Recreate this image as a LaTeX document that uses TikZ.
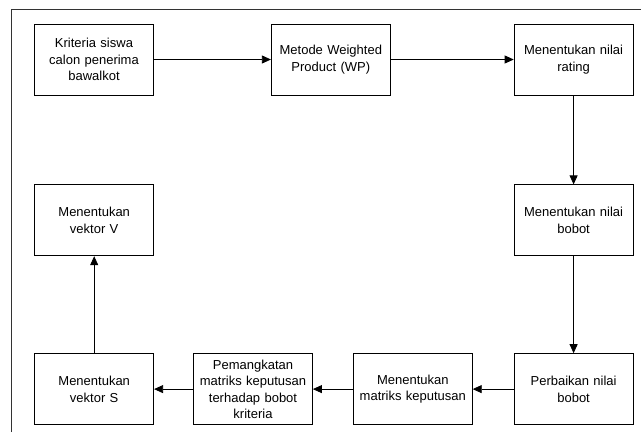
\documentclass[tikz,border=0pt]{standalone}
\usepackage{fontspec}
\setmainfont{Liberation Sans}
\usetikzlibrary{arrows.meta}

\begin{document}
\begin{tikzpicture}[x=1pt,y=-1pt]
    \def\colgap{40}
    \def\rowgap{89}
    \tikzstyle{block}=[rectangle, draw, line width=0.8pt, minimum width=119pt, minimum height=71pt, text width=115pt, inner sep=2pt, align=center, font=\fontsize{13}{16.5}\selectfont]
    \tikzstyle{arrow}=[-{Triangle[length=9pt,width=8pt]}, line width=0.8pt]

    \useasboundingbox (0,0) rectangle (641,432);
    \draw[line width=0.8pt, black!80] (11,432) -- (11,9) -- (641,9);

    % nodes
    \node (kriteria) [block] at (94,59.5) {Kriteria siswa\\calon penerima\\bawalkot};
    \path (kriteria.east)+(117,0) node (metode) [block, anchor=west] {Metode Weighted\\Product (WP)};
    \path (metode.east)+(123,0) node (rating) [block, anchor=west] {Menentukan nilai\\rating};
    \path (rating.south)+(0,\rowgap) node (bobot) [block, anchor=north] {Menentukan nilai\\bobot};
    \path (bobot.south)+(0,97) node (perbaikan) [block, anchor=north] {Perbaikan nilai\\bobot};
    \path (perbaikan.west)+(-41,0) node (matriks) [block, anchor=east] {Menentukan\\matriks keputusan};
    \path (matriks.west)+(-\colgap,0) node (pangkat) [block, anchor=east] {Pemangkatan\\matriks keputusan\\terhadap bobot\\kriteria};
    \path (pangkat.west)+(-39,0) node (vektorS) [block, anchor=east] {Menentukan\\vektor S};
    \path (vektorS.north)+(0,-97) node (vektorV) [block, anchor=south] {Menentukan\\vektor V};

    % arrows
    \draw[arrow] (kriteria) -- (metode);
    \draw[arrow] (metode) -- (rating);
    \draw[arrow] (rating) -- (bobot);
    \draw[arrow] (bobot) -- (perbaikan);
    \draw[arrow] (perbaikan) -- (matriks);
    \draw[arrow] (matriks) -- (pangkat);
    \draw[arrow] (pangkat) -- (vektorS);
    \draw[arrow] (vektorS) -- (vektorV);
\end{tikzpicture}
\end{document}
